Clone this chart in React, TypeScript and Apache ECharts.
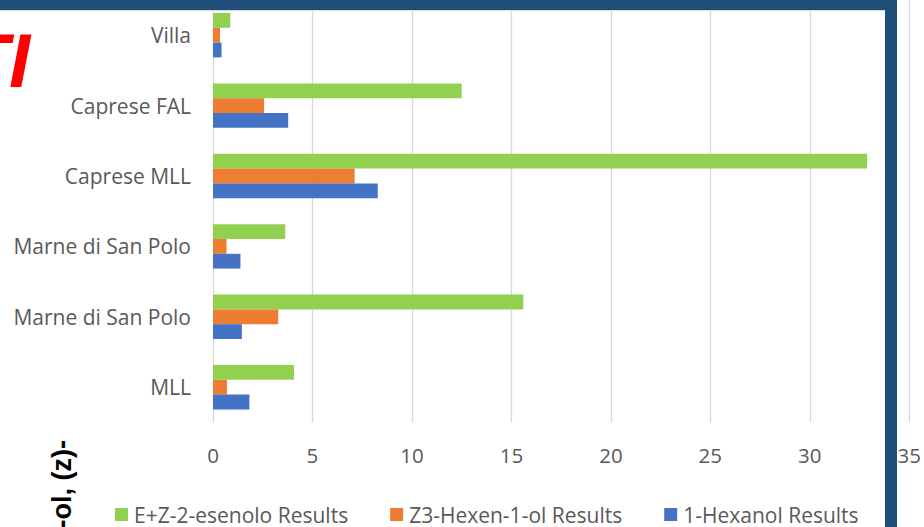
import React, { useEffect, useRef } from "react";
import * as echarts from "echarts";

const categories = ["Villa", "Caprese FAL", "Caprese MLL", "Marne di San Polo", "Marne di San Polo", "MLL"];
const seriesNames = ["E+Z-2-esenolo Results", "Z3-Hexen-1-ol Results", "1-Hexanol Results"];
const esenolo = [0.87, 12.5, 32.88, 3.63, 15.6, 4.07];
const hexenol = [0.35, 2.57, 7.12, 0.68, 3.28, 0.7];
const hexanol = [0.43, 3.78, 8.28, 1.38, 1.45, 1.83];
const xTicks = { min: 0, max: 35, interval: 5 };
const colors = ["#92D050", "#ED7D31", "#4472C4"];

const FONT = "'Open Sans', 'Noto Sans', sans-serif";

export default function App() {
  const ref = useRef<HTMLDivElement>(null);
  useEffect(() => {
    if (!ref.current) return;
    const chart = echarts.init(ref.current, null, { renderer: "svg" });
    const values = [esenolo, hexenol, hexanol];
    chart.setOption({
      animation: false,
      backgroundColor: "#ffffff",
      grid: { left: 213, right: 11, top: 0, bottom: 104.6, containLabel: false },
      xAxis: {
        type: "value",
        min: xTicks.min,
        max: xTicks.max,
        interval: xTicks.interval,
        axisLine: { show: false },
        axisTick: { show: false },
        splitLine: { lineStyle: { color: "#D9D9D9", width: 1.3 } },
        axisLabel: { color: "#595959", fontSize: 20.5, fontFamily: FONT, margin: 22 },
      },
      yAxis: {
        type: "category",
        inverse: true,
        data: categories,
        axisLine: { show: false },
        axisTick: { show: false },
        axisLabel: { color: "#595959", fontSize: 21, fontFamily: FONT, margin: 22 },
      },
      legend: {
        left: 115,
        top: 504,
        padding: 0,
        icon: "rect",
        itemWidth: 13,
        itemHeight: 13,
        itemGap: 42,
        data: seriesNames,
        textStyle: { color: "#595959", fontSize: 21, fontFamily: FONT, padding: [0, 0, 0, 1] },
      },
      series: seriesNames.map((name, i) => ({
        name,
        type: "bar",
        data: values[i],
        barGap: "0%",
        barCategoryGap: "37%",
        itemStyle: { color: colors[i] },
      })),
      graphic: [
        { type: "rect", z: 100, shape: { x: 0, y: 0, width: 897, height: 10 }, style: { fill: "#1F4E79" } },
        { type: "line", z: 100, shape: { x1: 0, y1: 10.5, x2: 885, y2: 10.5 }, style: { stroke: "#D6DCE4", lineWidth: 1 } },
        { type: "rect", z: 100, shape: { x: 885, y: 0, width: 12, height: 527 }, style: { fill: "#1F4E79" } },
        {
          type: "text",
          z: 100,
          x: 30,
          y: 60.5,
          style: {
            text: "TI",
            fill: "#FF0000",
            font: "italic bold 76px 'Liberation Sans', sans-serif",
            align: "right",
            verticalAlign: "middle",
          },
        },
        {
          type: "text",
          z: 100,
          x: 61.5,
          y: 440,
          rotation: Math.PI / 2,
          style: {
            text: "-ol, (z)-",
            fill: "#000000",
            font: "bold 27px 'Liberation Sans', sans-serif",
            align: "right",
            verticalAlign: "middle",
          },
        },
      ],
    });
    return () => chart.dispose();
  }, []);
  return <div ref={ref} style={{ position: "fixed", left: 0, top: 0, width: 924, height: 527 }} />;
}
